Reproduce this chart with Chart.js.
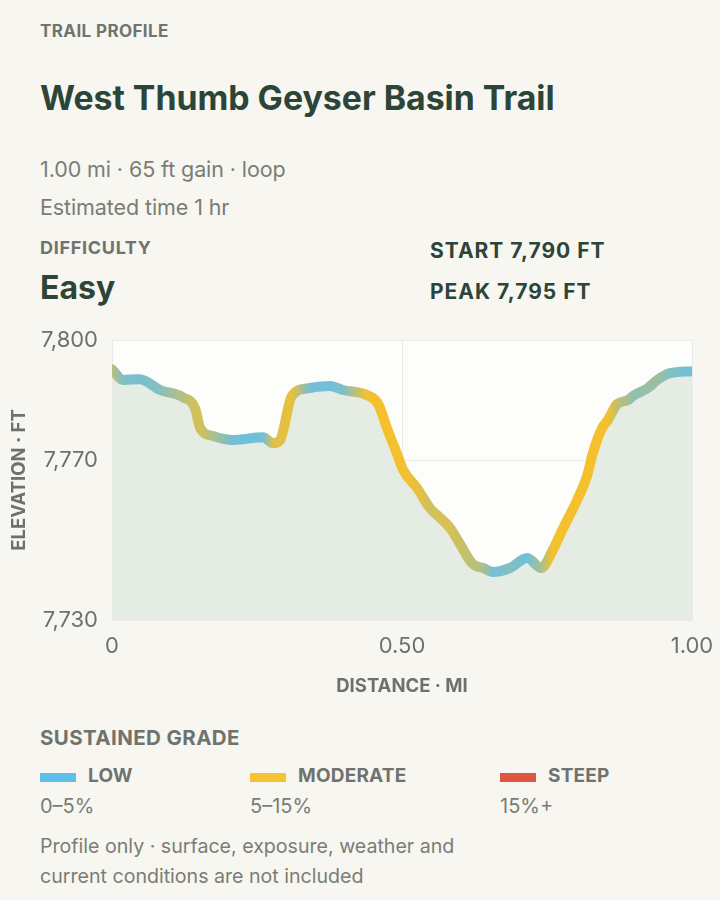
<!DOCTYPE html>
<html>
<head>
<meta charset="utf-8">
<script src="https://cdn.jsdelivr.net/npm/chart.js@4.4.1/dist/chart.umd.min.js"></script>
<style>
  html, body { margin: 0; padding: 0; }
  body {
    width: 720px; height: 900px; background: #f7f6f1; position: relative;
    font-family: Inter, "Noto Sans", sans-serif; color: #2c4538; overflow: hidden;
  }
  .abs { position: absolute; white-space: nowrap; }
  .kicker { left: 40px; top: 21px; font-size: 17px; font-weight: 700; color: #6f746d; letter-spacing: 0.4px; }
  .title { left: 40px; top: 77px; font-size: 33.8px; font-weight: 700; color: #2c4538; }
  .meta { left: 40px; font-size: 21.5px; color: #7a7d76; letter-spacing: -0.1px; }
  .label { font-size: 18px; font-weight: 700; color: #6f736d; letter-spacing: 0.7px; }
  .big { left: 40px; top: 268px; font-size: 32px; font-weight: 700; color: #2c4538; }
  .stat { left: 430px; font-size: 21px; font-weight: 700; color: #2c4538; letter-spacing: 1px; }
  #wrap { position: absolute; left: 0; top: 320px; width: 720px; height: 390px; }
  .sw { position: absolute; width: 36px; height: 9px; }
  .leg { font-size: 19px; font-weight: 700; color: #6f736d; letter-spacing: 0.2px; }
  .rng { font-size: 20px; color: #7a7d76; }
  .note { left: 40px; font-size: 19.6px; color: #7a7d76; }
</style>
</head>
<body>
<div class="abs kicker">TRAIL PROFILE</div>
<div class="abs title">West Thumb Geyser Basin Trail</div>
<div class="abs meta" style="top:156px">1.00 mi · 65 ft gain · loop</div>
<div class="abs meta" style="top:194px">Estimated time 1 hr</div>
<div class="abs label" style="left:40px;top:237px">DIFFICULTY</div>
<div class="abs big">Easy</div>
<div class="abs stat" style="top:238px">START 7,790 FT</div>
<div class="abs stat" style="top:279px">PEAK 7,795 FT</div>

<div id="wrap"><canvas id="profile"></canvas></div>

<div class="abs label" style="left:40px;top:725px;font-size:20.5px;letter-spacing:0.4px">SUSTAINED GRADE</div>
<div class="sw" style="left:40px;top:773px;background:#5fbfe8"></div>
<div class="abs leg" style="left:88px;top:764px">LOW</div>
<div class="abs rng" style="left:40px;top:794px">0–5%</div>
<div class="sw" style="left:250px;top:773px;background:#f6c431"></div>
<div class="abs leg" style="left:298px;top:764px">MODERATE</div>
<div class="abs rng" style="left:250px;top:794px">5–15%</div>
<div class="sw" style="left:500px;top:773px;background:#e0553f"></div>
<div class="abs leg" style="left:548px;top:764px">STEEP</div>
<div class="abs rng" style="left:500px;top:794px">15%+</div>
<div class="abs note" style="top:834px">Profile only · surface, exposure, weather and</div>
<div class="abs note" style="top:864px">current conditions are not included</div>

<script>
// distance along the trail (mi) and elevation (ft)
const distance = [0, 0.019, 0.048, 0.083, 0.122, 0.143, 0.152, 0.174, 0.209, 0.26, 0.278, 0.29,
  0.31, 0.341, 0.376, 0.398, 0.44, 0.459, 0.474, 0.491, 0.502, 0.526, 0.548, 0.566, 0.583,
  0.6, 0.622, 0.64, 0.657, 0.686, 0.716, 0.74, 0.76, 0.778, 0.802, 0.819, 0.829, 0.845,
  0.855, 0.871, 0.89, 0.898, 0.924, 0.94, 0.962, 1.0];
const elevation = [7792.7, 7790, 7790.2, 7787.5, 7785.7, 7783, 7778, 7776, 7775, 7775.7, 7774.2, 7775,
  7786, 7788, 7788.5, 7787.5, 7786.2, 7784, 7778, 7771.7, 7767.5, 7763, 7758, 7755.5, 7753,
  7749, 7744, 7743, 7742, 7743, 7745.5, 7743, 7747.5, 7753, 7760, 7766, 7771.7, 7778,
  7780, 7784, 7785, 7786, 7788, 7790, 7791.7, 7792.2];
const yTicks = [7730, 7770, 7800];
const xTicks = [0, 0.5, 1];

const LOW = [112, 191, 218];
const MOD = [245, 192, 46];

// sustained grade (%) around each point, over a ~0.08 mi window
function sustainedGrade(i) {
  const w = 0.04;
  let a = i, b = i;
  while (a > 0 && distance[a - 1] >= distance[i] - w) a--;
  while (b < distance.length - 1 && distance[b + 1] <= distance[i] + w) b++;
  const run = (distance[b] - distance[a]) * 5280;
  return run ? Math.abs(elevation[b] - elevation[a]) / run * 100 : 0;
}
function gradeColor(g) {
  const t = Math.max(0, Math.min(1, (g - 0.5) / 4));
  const c = LOW.map((v, k) => Math.round(v + (MOD[k] - v) * t));
  return `rgb(${c[0]},${c[1]},${c[2]})`;
}

function lineGradient(context) {
  const chart = context.chart;
  const area = chart.chartArea;
  if (!area) return gradeColor(0);
  const xs = chart.scales.x;
  const g = chart.ctx.createLinearGradient(area.left, 0, area.right, 0);
  distance.forEach((d, i) => {
    const p = (xs.getPixelForValue(d) - area.left) / (area.right - area.left);
    g.addColorStop(Math.max(0, Math.min(1, p)), gradeColor(sustainedGrade(i)));
  });
  return g;
}

const plotBg = {
  id: 'plotBg',
  beforeDraw(chart) {
    const { ctx, chartArea: a } = chart;
    ctx.save();
    ctx.fillStyle = '#fdfdfb';
    ctx.fillRect(a.left, a.top, a.right - a.left, a.bottom - a.top);
    ctx.restore();
  }
};

const tickFont = { family: 'Inter', size: 22 };
const titleFont = { family: 'Inter', size: 18.5, weight: '700' };

new Chart(document.getElementById('profile'), {
  type: 'line',
  data: {
    datasets: [{
      data: distance.map((d, i) => ({ x: d, y: elevation[i] })),
      borderColor: lineGradient,
      backgroundColor: '#e5ece3',
      fill: 'start',
      borderWidth: 10,
      borderCapStyle: 'round',
      borderJoinStyle: 'round',
      cubicInterpolationMode: 'monotone',
      pointRadius: 0
    }]
  },
  options: {
    responsive: true,
    maintainAspectRatio: false,
    animation: false,
    layout: { padding: { top: 20, right: 28, left: 0, bottom: 0 } },
    plugins: { legend: { display: false }, tooltip: { enabled: false } },
    scales: {
      x: {
        type: 'linear',
        min: 0, max: 1,
        afterBuildTicks: (s) => { s.ticks = xTicks.map(v => ({ value: v })); },
        afterFit: (s) => { s.height = 90; s.paddingLeft = 0; s.paddingRight = 0; },
        ticks: {
          color: '#6d716b', font: tickFont, padding: 13, maxRotation: 0,
          callback: (v) => v === 0 ? '0' : v.toFixed(2)
        },
        grid: { color: '#ecebe7', drawTicks: false },
        border: { display: false },
        title: { display: true, text: 'DISTANCE · MI', color: '#6d716b', font: titleFont, padding: { top: 4, bottom: 12 } }
      },
      y: {
        min: 7730, max: 7800,
        afterBuildTicks: (s) => { s.ticks = yTicks.map(v => ({ value: v })); },
        afterFit: (s) => { s.width = 112; s.paddingTop = 0; s.paddingBottom = 0; },
        ticks: {
          color: '#6d716b', font: tickFont, padding: 14,
          callback: (v) => v.toLocaleString('en-US')
        },
        grid: { color: '#ecebe7', drawTicks: false },
        border: { display: false },
        title: { display: true, text: 'ELEVATION · FT', color: '#6d716b', font: titleFont, padding: { top: 8, bottom: 0 } }
      }
    }
  },
  plugins: [plotBg]
});
</script>
</body>
</html>
